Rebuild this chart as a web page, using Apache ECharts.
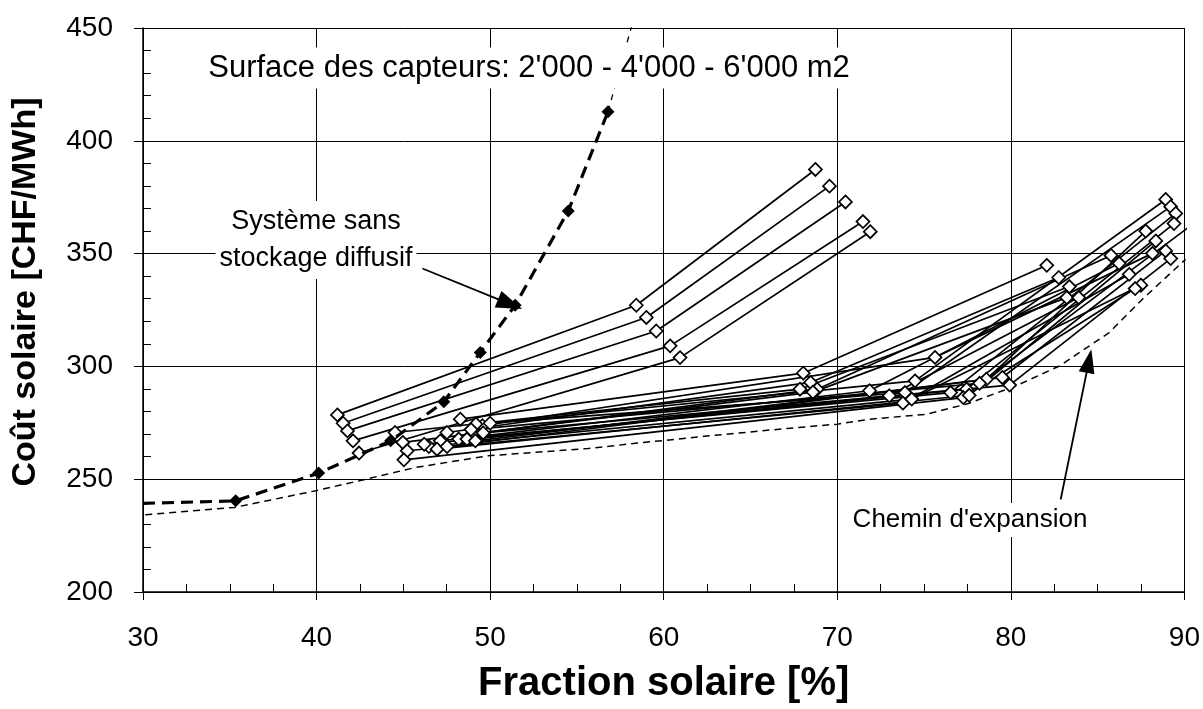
<!DOCTYPE html>
<html>
<head>
<meta charset="utf-8">
<script src="https://cdn.jsdelivr.net/npm/echarts@6/dist/echarts.min.js"></script>
<style>
  html, body { margin: 0; padding: 0; background: #fff; }
  #chart { width: 1203px; height: 709px; }
</style>
</head>
<body>
<div id="chart"></div>
<script>
// axis ranges
var xMin = 30, xMax = 90, xStep = 10;
var yMin = 200, yMax = 450, yStep = 50;
var surfaces = ["2'000", "4'000", "6'000"];

// variants with diffuse storage, one point per collector surface [fraction %, cost CHF/MWh]
var upperRuns = [
  [[41.20, 278.5], [58.42, 327.1], [68.74, 387.3]],
  [[41.53, 274.8], [59.00, 321.7], [69.55, 379.9]],
  [[41.78, 271.4], [59.57, 315.7], [70.47, 372.9]],
  [[42.10, 267.0], [60.37, 309.1], [71.48, 364.2]],
  [[42.45, 261.6], [60.94, 303.9], [71.90, 359.7]]
];
var bundleRuns = [
  [[48.28, 276.6], [68.04, 297.0], [82.07, 344.8]],
  [[47.51, 270.7], [68.46, 292.9], [82.76, 339.4]],
  [[44.52, 270.7], [67.85, 289.9], [83.37, 335.4]],
  [[49.00, 270.0], [68.84, 289.9], [85.77, 349.2]],
  [[44.97, 266.3], [68.60, 288.6], [83.22, 330.5]],
  [[47.13, 267.0], [71.86, 289.2], [86.24, 345.7]],
  [[49.56, 273.7], [75.63, 304.0], [88.16, 350.1]],
  [[50.00, 274.8], [74.48, 293.6], [88.92, 374.0]],
  [[49.18, 274.4], [73.90, 288.4], [89.21, 370.8]],
  [[45.22, 262.6], [73.78, 283.7], [86.82, 340.8]],
  [[46.47, 264.5], [74.29, 285.5], [87.49, 336.0]],
  [[48.19, 267.8], [76.53, 288.4], [89.50, 367.8]],
  [[48.66, 267.8], [77.45, 289.9], [89.40, 363.3]],
  [[45.03, 258.6], [77.26, 286.2], [87.16, 334.5]],
  [[46.94, 263.3], [77.60, 287.2], [88.35, 355.6]],
  [[49.15, 267.0], [78.59, 294.3], [87.77, 360.0]],
  [[47.52, 264.5], [79.51, 295.1], [88.92, 351.2]],
  [[49.60, 270.5], [79.93, 291.7], [89.21, 347.8]],
  [[46.20, 265.5], [73.00, 287.0], [83.91, 330.5]],
  [[48.90, 272.0], [78.20, 292.5], [91.00, 366.0]]
];
// system without diffuse storage
var noStorage = [[30.00, 239.3], [35.34, 240.4], [40.12, 252.7], [44.27, 267.0], [47.33, 284.3],
  [49.43, 306.2], [51.44, 327.1], [54.50, 368.9], [56.79, 412.9]];
var noStorageTail = [[56.79, 412.9], [58.30, 455.0]];
// expansion path (lower envelope)
var expansionPath = [[29.44, 233.8], [35.28, 237.5], [39.96, 244.9], [42.45, 249.3], [45.70, 255.2],
  [49.90, 260.4], [55.65, 263.6], [58.50, 266.0], [62.34, 269.0], [67.10, 272.5], [70.00, 274.4],
  [71.90, 276.6], [75.15, 278.8], [77.45, 283.3], [80.30, 291.4], [82.80, 300.2], [85.67, 315.0],
  [87.58, 329.8], [90.07, 347.5]];
var arrowNoStorage = [[46.10, 343.4], [51.15, 327.6]];
var arrowExpansion = [[82.87, 241.0], [84.50, 302.4]];

var FONT = 'Liberation Sans, Arial, sans-serif';
var chart = echarts.init(document.getElementById('chart'));

var series = [];
upperRuns.concat(bundleRuns).forEach(function (run) {
  series.push({
    type: 'line', data: run, showSymbol: false, symbol: 'none',
    lineStyle: { color: '#000', width: 1.7 }, z: 3, silent: true
  });
});
var openPts = [];
upperRuns.concat(bundleRuns).forEach(function (run) {
  run.forEach(function (p) { openPts.push(p); });
});
series.push({
  type: 'scatter', data: openPts, symbol: 'diamond', symbolSize: 13, clip: true,
  itemStyle: { color: '#fff', borderColor: '#000', borderWidth: 1.7, opacity: 1 }, z: 4
});
series.push({
  type: 'line', data: expansionPath, symbol: 'none', clip: false,
  lineStyle: { color: '#000', width: 1.5, type: [7, 5] }, z: 2,
  markLine: {
    silent: true, symbol: ['none', 'triangle'], symbolSize: [16, 24], animation: false,
    label: { show: false },
    lineStyle: { color: '#000', width: 1.8, type: 'solid' },
    data: [[{ coord: arrowExpansion[0] }, { coord: arrowExpansion[1] }]]
  }
});
series.push({
  type: 'line', data: noStorageTail, symbol: 'none',
  lineStyle: { color: '#000', width: 1.3, type: [6, 6] }, z: 2
});
series.push({
  type: 'line',
  data: noStorage.map(function (p, i) { return i === 0 ? { value: p, symbol: 'none' } : p; }),
  symbol: 'diamond', symbolSize: 13, showAllSymbol: true,
  itemStyle: { color: '#000' },
  lineStyle: { color: '#000', width: 3.2, type: [12, 7] }, z: 5,
  markLine: {
    silent: true, symbol: ['none', 'triangle'], symbolSize: [18, 26], animation: false,
    label: { show: false },
    lineStyle: { color: '#000', width: 1.8, type: 'solid' },
    data: [[{ coord: arrowNoStorage[0] }, { coord: arrowNoStorage[1] }]]
  }
});

var option = {
  animation: false,
  backgroundColor: '#fff',
  grid: { left: 143, top: 28, width: 1042, height: 565 },
  xAxis: [{
    type: 'value', min: xMin, max: xMax, interval: xStep,
    name: 'Fraction solaire [%]', nameLocation: 'middle', nameGap: 72,
    nameTextStyle: { color: '#000', fontSize: 40, fontWeight: 'bold', fontFamily: FONT },
    axisLine: { show: true, onZero: false, lineStyle: { color: '#000', width: 1.5 } },
    axisTick: { show: true, inside: false, length: 8, lineStyle: { color: '#000', width: 1 } },
    axisLabel: { color: '#000', fontSize: 28, fontFamily: FONT, margin: 32 },
    splitLine: { show: true, lineStyle: { color: '#000', width: 1 } }
  }, {
    type: 'value', min: xMin, max: xMax, interval: xStep, position: 'bottom',
    axisLine: { show: false }, axisLabel: { show: false }, splitLine: { show: false },
    axisTick: { show: false, inside: true },
    minorTick: { show: true, splitNumber: 4, length: 8, lineStyle: { color: '#000', width: 1 } }
  }],
  yAxis: [{
    type: 'value', min: yMin, max: yMax, interval: yStep,
    name: 'Coût solaire [CHF/MWh]', nameLocation: 'middle', nameGap: 100,
    nameTextStyle: { color: '#000', fontSize: 34, fontWeight: 'bold', fontFamily: FONT, padding: [0, 0, 0, 36] },
    axisLine: { show: true, onZero: false, lineStyle: { color: '#000', width: 1.5 } },
    axisTick: { show: true, inside: false, length: 9, lineStyle: { color: '#000', width: 1 } },
    axisLabel: { color: '#000', fontSize: 28, fontFamily: FONT, margin: 30 },
    splitLine: { show: true, lineStyle: { color: '#000', width: 1 } }
  }, {
    type: 'value', min: yMin, max: yMax, interval: yStep, position: 'left',
    axisLine: { show: false }, axisLabel: { show: false }, splitLine: { show: false },
    axisTick: { show: false, inside: true },
    minorTick: { show: true, splitNumber: 5, length: 8, lineStyle: { color: '#000', width: 1 } }
  }],
  graphic: [
    {
      type: 'text', x: 529, y: 68, z: 100,
      style: {
        text: 'Surface des capteurs: ' + surfaces.join(' - ') + ' m2',
        font: '31px ' + FONT, fill: '#000', align: 'center', verticalAlign: 'middle',
        backgroundColor: '#fff', padding: [5, 8]
      }
    },
    {
      type: 'text', x: 316, y: 240, z: 100,
      style: {
        text: 'Système sans\nstockage diffusif', lineHeight: 37,
        font: '27px ' + FONT, fill: '#000', align: 'center', verticalAlign: 'middle',
        backgroundColor: '#fff', padding: [2, 4]
      }
    },
    {
      type: 'text', x: 970, y: 520, z: 100,
      style: {
        text: "Chemin d'expansion",
        font: '26px ' + FONT, fill: '#000', align: 'center', verticalAlign: 'middle',
        backgroundColor: '#fff', padding: [4, 6]
      }
    }
  ],
  series: series
};
chart.setOption(option);
</script>
</body>
</html>
